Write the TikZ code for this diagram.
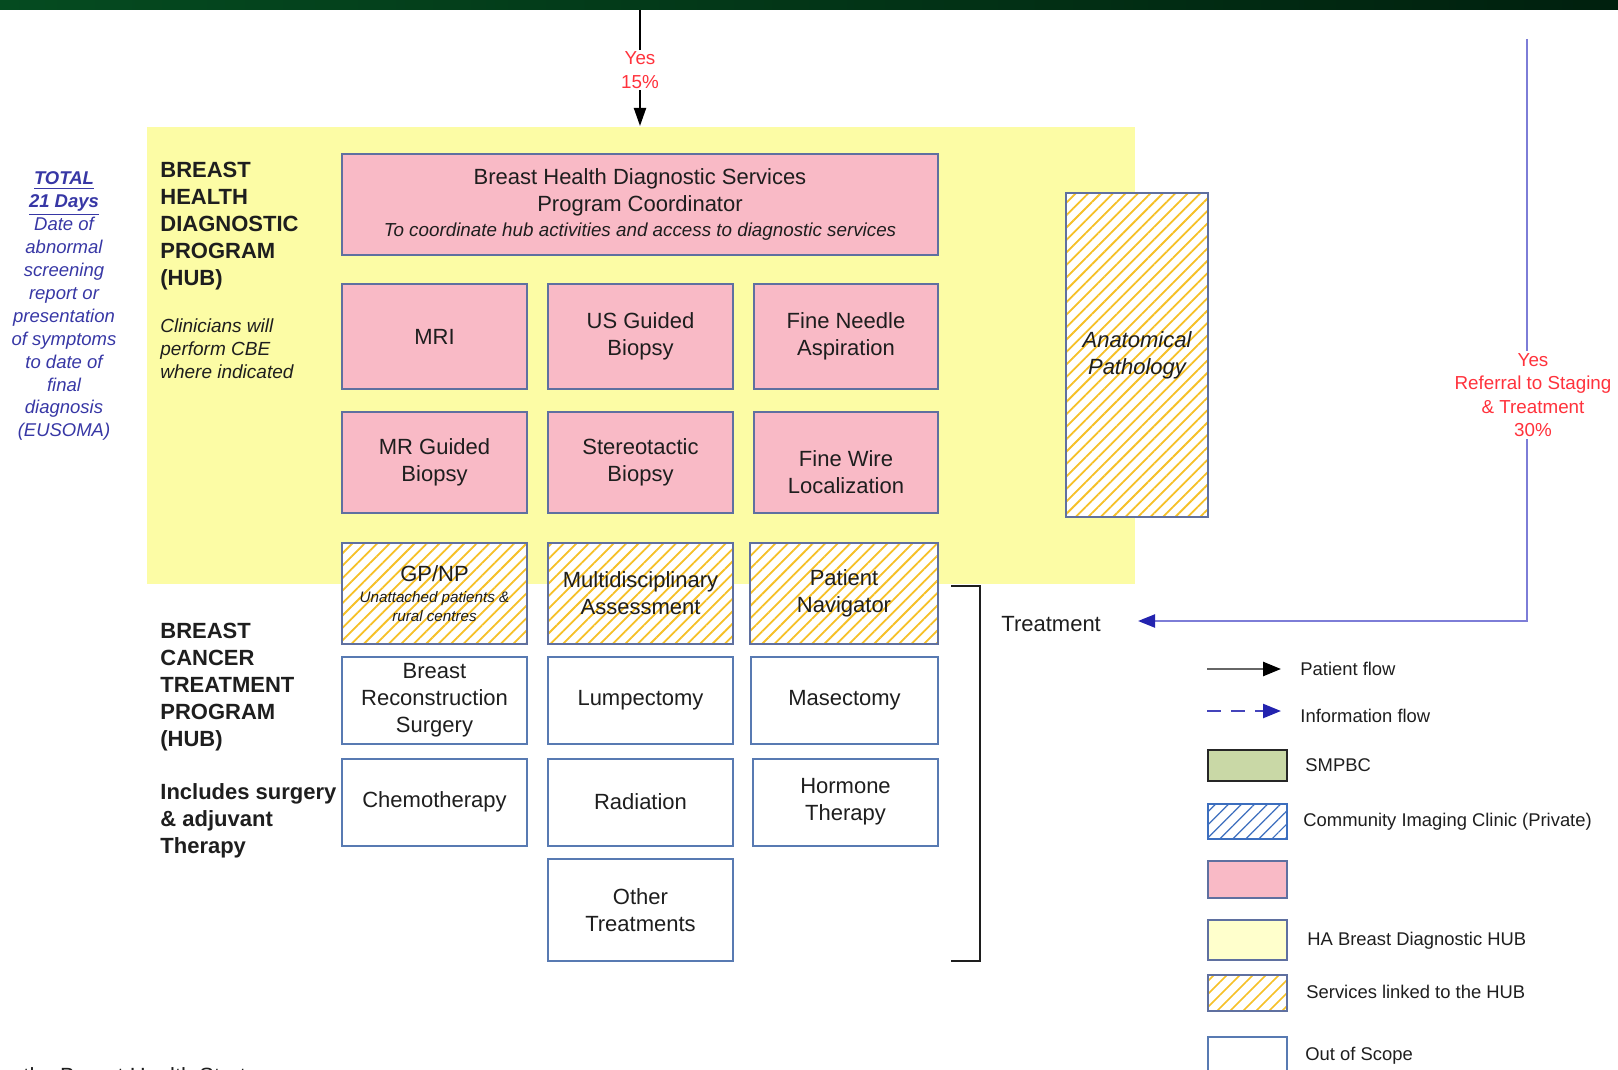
\documentclass[tikz,border=0pt]{standalone}
\usepackage{fontspec}
\setmainfont{Liberation Sans}
\usetikzlibrary{arrows.meta,patterns.meta}
\newcommand\myfs[2]{\fontsize{#1}{#2}\selectfont}
\definecolor{hubyellow}{RGB}{252,252,165}
\definecolor{pinkc}{RGB}{249,186,198}
\definecolor{boxblue}{RGB}{95,112,160}
\definecolor{outblue}{RGB}{88,122,178}
\definecolor{hatchy}{RGB}{246,192,38}
\definecolor{hatchb}{RGB}{60,110,190}
\definecolor{txt}{RGB}{30,30,30}
\definecolor{lblue}{RGB}{55,55,165}
\definecolor{redl}{RGB}{255,50,60}
\definecolor{flowblue}{RGB}{125,125,215}
\definecolor{tipblue}{RGB}{35,35,175}
\definecolor{greenA}{RGB}{5,75,32}
\definecolor{greenB}{RGB}{0,32,14}
\definecolor{smpbc}{RGB}{201,216,166}
\definecolor{lightyel}{RGB}{255,255,204}
\tikzset{
  box/.style={draw=boxblue, line width=1pt, align=flush center, text=txt,
    font=\myfs{11}{13.4}, inner sep=1pt},
  pinkbox/.style={box, fill=pinkc},
  hatchbox/.style={box, preaction={fill=white},
    pattern={Lines[angle=45,distance=4.4pt,line width=0.9pt]}, pattern color=hatchy},
  outbox/.style={box, fill=white, draw=outblue},
  sz/.style 2 args={minimum width=#1pt, minimum height=#2pt, text width=#1pt-6pt},
  title/.style={anchor=west, inner sep=0pt, align=left, text=txt, font=\myfs{11}{13.45}\bfseries},
  redlbl/.style={fill=white, inner sep=1pt, align=center, text=redl, font=\myfs{9.4}{11.7}},
  pflow/.style={line width=1pt, draw=black, -{Triangle[length=9pt,width=6pt]}},
  iflow/.style={line width=1.1pt, draw=flowblue, -{Triangle[length=8.5pt,width=6.5pt,color=tipblue]}},
  lgtext/.style={anchor=west, inner sep=0pt, text=txt, font=\myfs{9.2}{11}},
  lgbox/.style={minimum width=39.5pt, line width=1pt, inner sep=0pt},
}
\begin{document}
\begin{tikzpicture}[x=0.5pt,y=-0.5pt]
\useasboundingbox (0,0) rectangle (1618,1070);
\clip (0,0) rectangle (1618,1070);
% top bar
\fill[left color=greenA, right color=greenB] (0,0) rectangle (1618,10);
% hub region
\node[fill=hubyellow, minimum width=494.25pt, minimum height=228.5pt, inner sep=0pt] (hub) at (640.75,355.5) {};
% left blue text
\node[align=center, text=lblue, inner sep=0pt, font=\myfs{9.25}{11.45}\itshape] (total) at (64,306.4)
 {\underline{\textbf{TOTAL}}\\\underline{\textbf{21 Days}}\\Date of\\abnormal\\screening\\report or\\presentation\\of symptoms\\to date of\\final\\diagnosis\\(EUSOMA)};
% titles
\node[title] (bhdp) at (160,226.4) {BREAST\\HEALTH\\DIAGNOSTIC\\PROGRAM\\(HUB)};
\node[title, font=\myfs{9.5}{11.6}\itshape] (cbe) at (160,348.8) {Clinicians will\\perform CBE\\where indicated};
\node[title] (bctp) at (160,687) {BREAST\\CANCER\\TREATMENT\\PROGRAM\\(HUB)};
\node[title] (incl) at (160,821) {Includes surgery\\\& adjuvant\\Therapy};
% coordinator
\node[pinkbox, sz={298}{50.5}] (coord) at (640,204.5)
 {Breast Health Diagnostic Services\\Program Coordinator\\[-1pt]{\myfs{9.4}{12}\itshape To coordinate hub activities and access to diagnostic services}};
% row 1
\node[pinkbox, sz={92.5}{52.5}] (mri) at (434.5,336.5) {MRI};
\node[pinkbox, sz={92.5}{52.5}] (usg) at (640.5,336.5) {US Guided\\Biopsy};
\node[pinkbox, sz={92}{52.5}] (fna) at (846,336.5) {Fine Needle\\Aspiration};
% row 2
\node[pinkbox, sz={92.5}{50.5}] (mrg) at (434.5,462.5) {MR Guided\\Biopsy};
\node[pinkbox, sz={92.5}{50.5}] (ster) at (640.5,462.5) {Stereotactic\\Biopsy};
\node[pinkbox, sz={92}{50.5}] (fwl) at (846,462.5) {};
\node[align=center, text=txt, font=\myfs{11}{13.4}, inner sep=0pt] (fwlt) at (846,472) {Fine Wire\\Localization};
% row 3
\node[hatchbox, sz={92.5}{50.5}] (gp) at (434.5,593.5)
 {GP/NP\\[-2.6pt]{\myfs{7.6}{9.3}\itshape Unattached patients \&}\\[-4.1pt]{\myfs{7.6}{9.3}\itshape rural centres}};
\node[hatchbox, sz={92.5}{50.5}] (mda) at (640.5,593.5) {Multidisciplinary\\Assessment};
\node[hatchbox, sz={94}{50.5}] (pn) at (844,593.5) {Patient\\Navigator};
% row 4
\node[outbox, sz={92.5}{43.5}] (brs) at (434.5,700.5) {Breast\\Reconstruction\\Surgery};
\node[outbox, sz={92.5}{43.5}] (lump) at (640.5,700.5) {Lumpectomy};
\node[outbox, sz={93.5}{43.5}] (mast) at (844.5,700.5) {Masectomy};
% row 5
\node[outbox, sz={92.5}{43.5}] (chemo) at (434.5,802) {Chemotherapy};
\node[outbox, sz={92.5}{43.5}] (rad) at (640.5,802) {Radiation};
\node[outbox, sz={92.5}{43.5}] (horm) at (845.5,802) {Hormone\\Therapy};
% row 6
\node[outbox, sz={92.5}{51}] (other) at (640.5,910) {Other\\Treatments};
% anatomical pathology
\node[hatchbox, sz={71}{162}] (path) at (1137,355) {\itshape Anatomical\\\itshape Pathology};
% bracket
\draw[line width=1pt, draw=txt] (951,586) -- (980,586) -- (980,961) -- (951,961);
% treatment
\node[anchor=west, inner sep=0pt, text=txt, font=\myfs{11}{13.4}] (treat) at (1001,624) {Treatment};
% top arrow
\coordinate (ytop) at (640,10);
\coordinate (ybot) at (640,126);
\draw[pflow] (ytop) -- (ybot);
\node[redlbl] (yes15) at (640,70) {Yes\\15\%};
% blue referral arrow
\coordinate (rtop) at (1527,39);
\coordinate (tin) at (1138,621);
\draw[iflow] (rtop) -- (rtop |- tin) -- (tin);
\node[redlbl] (yes30) at (1533,395) {Yes\\Referral to Staging\\\& Treatment\\30\%};
% legend
\coordinate (l1a) at (1207,669); \coordinate (l1b) at (1281,669);
\draw[line width=1.3pt, draw=black!60, -{Triangle[length=9pt,width=7pt,color=black]}] (l1a) -- (l1b);
\node[lgtext] (l1t) at (1300,669) {Patient flow};
\coordinate (l2a) at (1207,711); \coordinate (l2b) at (1281,711);
\draw[line width=1.2pt, draw=tipblue!85, dash pattern=on 7pt off 5pt, -{Triangle[length=9pt,width=7pt,color=tipblue]}] (l2a) -- (l2b);
\node[lgtext] (l2t) at (1300,716) {Information flow};
\node[lgbox, fill=smpbc, draw=black!85, line width=1.3pt, minimum height=15.5pt] (lsm) at (1247.5,765.5) {};
\node[lgtext] (lsmt) at (1305,765) {SMPBC};
\node[lgbox, preaction={fill=white}, draw=hatchb, pattern={Lines[angle=45,distance=4.6pt,line width=0.6pt]}, pattern color=hatchb, minimum height=17.5pt] (lci) at (1247.5,821.5) {};
\node[lgtext] (lcit) at (1303,822) {Community Imaging Clinic (Private)};
\node[lgbox, fill=pinkc, draw=boxblue, minimum height=18.5pt] (lpk) at (1247.5,879.5) {};
\node[lgbox, fill=lightyel, draw=boxblue, minimum height=20pt] (lyl) at (1247.5,940) {};
\node[lgtext] (lylt) at (1307,941) {HA Breast Diagnostic HUB};
\node[lgbox, preaction={fill=white}, draw=boxblue, pattern={Lines[angle=45,distance=4.6pt,line width=0.8pt]}, pattern color=hatchy, minimum height=18pt] (lyh) at (1247.5,993) {};
\node[lgtext] (lyht) at (1306,992) {Services linked to the HUB};
\node[lgbox, fill=white, draw=outblue, minimum height=23pt] (los) at (1247.5,1060) {};
\node[lgtext] (lost) at (1305,1056) {Out of Scope};
% bottom cut text
\node[anchor=base west, inner sep=0pt, text=txt, font=\myfs{11}{13}] (strat) at (23,1083) {the Breast Health Strategy};
\end{tikzpicture}
\end{document}
